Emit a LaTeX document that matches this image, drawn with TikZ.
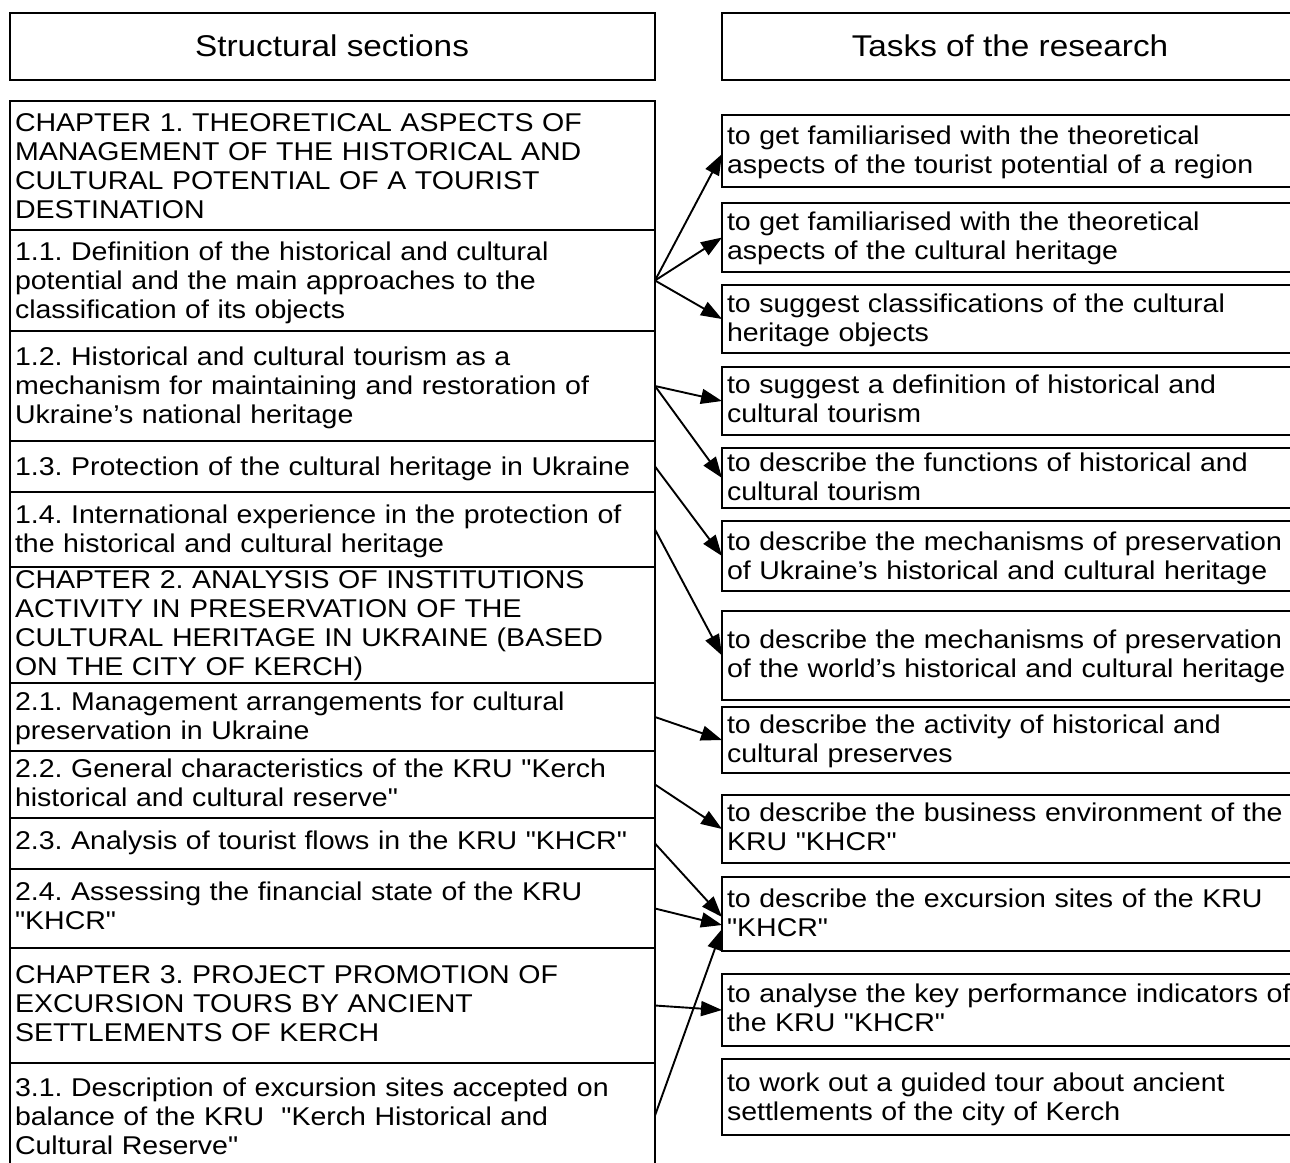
\documentclass[tikz,border=0pt]{standalone}
\usepackage{fontspec}
\setmainfont{Liberation Sans}[FakeStretch=1.11, Ligatures=TeXOff]
\usetikzlibrary{arrows.meta}
\newcommand{\bodyfont}{\fontsize{25.7}{29}\selectfont\frenchspacing}
\newcommand{\headfont}{\fontsize{30}{36}\selectfont\frenchspacing}
\newcommand{\fs}{\noindent\rule{0pt}{24pt}}
\begin{document}
\begin{tikzpicture}[x=1pt,y=-1pt,
  box/.style={draw, line width=1.8pt, anchor=north west, inner sep=0pt, outer sep=0pt},
  lbox/.style={box, minimum width=645pt},
  rbox/.style={box, minimum width=576pt},
  txt/.style={anchor=north west, inner sep=0pt, outer sep=0pt, text width=640pt, align=left, font=\bodyfont},
  rtxt/.style={txt, text width=600pt},
  head/.style={anchor=base, inner sep=0pt, font=\headfont},
  arr/.style={line width=1.9pt, -{Triangle[length=21pt,width=15pt]}}]
\useasboundingbox (0,0) rectangle (1290,1162);
% headers
\node[lbox, minimum height=67pt] (hL) at (10,13) {};
\node[rbox, minimum height=67pt] (hR) at (722,13) {};
\node[head] (hLt) at (332,56) {Structural sections};
\node[head] (hRt) at (1010,56) {Tasks of the research};
% left column boxes
\node[lbox, minimum height=129pt] (c1) at (10,101) {};
\node[lbox, minimum height=101pt] (s11) at (10,230) {};
\node[lbox, minimum height=110pt] (s12) at (10,331) {};
\node[lbox, minimum height=51pt] (s13) at (10,441) {};
\node[lbox, minimum height=75pt] (s14) at (10,492) {};
\node[lbox, minimum height=116pt] (c2) at (10,567) {};
\node[lbox, minimum height=68pt] (s21) at (10,683) {};
\node[lbox, minimum height=67pt] (s22) at (10,751) {};
\node[lbox, minimum height=51pt] (s23) at (10,818) {};
\node[lbox, minimum height=79pt] (s24) at (10,869) {};
\node[lbox, minimum height=115pt] (c3) at (10,948) {};
\node[lbox, minimum height=105pt] (s31) at (10,1063) {};
% right column boxes
\node[rbox, minimum height=72pt] (r1) at (722,115) {};
\node[rbox, minimum height=69pt] (r2) at (722,203) {};
\node[rbox, minimum height=68pt] (r3) at (722,285) {};
\node[rbox, minimum height=68pt] (r4) at (722,367) {};
\node[rbox, minimum height=60pt] (r5) at (722,448) {};
\node[rbox, minimum height=70pt] (r6) at (722,521) {};
\node[rbox, minimum height=89pt] (r7) at (722,611) {};
\node[rbox, minimum height=66pt] (r8) at (722,707) {};
\node[rbox, minimum height=68pt] (r9) at (722,795) {};
\node[rbox, minimum height=74pt] (r10) at (722,877) {};
\node[rbox, minimum height=72pt] (r11) at (722,974) {};
\node[rbox, minimum height=76pt] (r12) at (722,1059) {};
% left texts
\node[txt] (c1t) at (15,107) {\fs CHAPTER 1. THEORETICAL ASPECTS OF\\MANAGEMENT OF THE HISTORICAL AND\\CULTURAL POTENTIAL OF A TOURIST\\DESTINATION};
\node[txt] (s11t) at (15,236) {\fs 1.1. Definition of the historical and cultural\\potential and the main approaches to the\\classification of its objects};
\node[txt] (s12t) at (15,341) {\fs 1.2. Historical and cultural tourism as a\\mechanism for maintaining and restoration of\\Ukraine’s national heritage};
\node[txt] (s13t) at (15,451) {\fs 1.3. Protection of the cultural heritage in Ukraine};
\node[txt] (s14t) at (15,499) {\fs 1.4. International experience in the protection of\\the historical and cultural heritage};
\node[txt] (c2t) at (15,564) {\fs CHAPTER 2. ANALYSIS OF INSTITUTIONS\\ACTIVITY IN PRESERVATION OF THE\\CULTURAL HERITAGE IN UKRAINE (BASED\\ON THE CITY OF KERCH)};
\node[txt] (s21t) at (15,686) {\fs 2.1. Management arrangements for cultural\\preservation in Ukraine};
\node[txt] (s22t) at (15,753) {\fs 2.2. General characteristics of the KRU "Kerch\\historical and cultural reserve"};
\node[txt] (s23t) at (15,825) {\fs 2.3. Analysis of tourist flows in the KRU "KHCR"};
\node[txt] (s24t) at (15,876) {\fs 2.4. Assessing the financial state of the KRU\\"KHCR"};
\node[txt] (c3t) at (15,959) {\fs CHAPTER 3. PROJECT PROMOTION OF\\EXCURSION TOURS BY ANCIENT\\SETTLEMENTS OF KERCH};
\node[txt] (s31t) at (15,1072) {\fs 3.1. Description of excursion sites accepted on\\balance of the KRU~ "Kerch Historical and\\Cultural Reserve"};
% right texts
\node[rtxt] (r1t) at (727,120) {\fs to get familiarised with the theoretical\\aspects of the tourist potential of a region};
\node[rtxt] (r2t) at (727,206) {\fs to get familiarised with the theoretical\\aspects of the cultural heritage};
\node[rtxt] (r3t) at (727,288) {\fs to suggest classifications of the cultural\\heritage objects};
\node[rtxt] (r4t) at (727,369) {\fs to suggest a definition of historical and\\cultural tourism};
\node[rtxt] (r5t) at (727,447) {\fs to describe the functions of historical and\\cultural tourism};
\node[rtxt] (r6t) at (727,526) {\fs to describe the mechanisms of preservation\\of Ukraine’s historical and cultural heritage};
\node[rtxt] (r7t) at (727,624) {\fs to describe the mechanisms of preservation\\of the world’s historical and cultural heritage};
\node[rtxt] (r8t) at (727,709) {\fs to describe the activity of historical and\\cultural preserves};
\node[rtxt] (r9t) at (727,797) {\fs to describe the business environment of the\\KRU "KHCR"};
\node[rtxt] (r10t) at (727,883) {\fs to describe the excursion sites of the KRU\\"KHCR"};
\node[rtxt] (r11t) at (727,978) {\fs to analyse the key performance indicators of\\the KRU "KHCR"};
\node[rtxt] (r12t) at (727,1067) {\fs to work out a guided tour about ancient\\settlements of the city of Kerch};
% arrows
\draw[arr] (s11.east) -- ([yshift=-3pt]r1.west);
\draw[arr] (s11.east) -- (r2.west);
\draw[arr] (s11.east) -- (r3.west);
\draw[arr] (s12.east) -- (r4.west);
\draw[arr] (s12.east) -- (r5.west);
\draw[arr] (s13.east) -- (r6.west);
\draw[arr] (s14.east) -- (r7.west);
\draw[arr] (s21.east) -- (r8.west);
\draw[arr] (s22.east) -- (r9.west);
\draw[arr] (s23.east) -- ([yshift=-3pt]r10.west);
\draw[arr] (s24.east) -- ([yshift=-11pt]r10.west);
\draw[arr] (c3.east) -- (r11.west);
\draw[arr] (s31.east) -- ([yshift=-15pt]r10.west);
\end{tikzpicture}
\end{document}
